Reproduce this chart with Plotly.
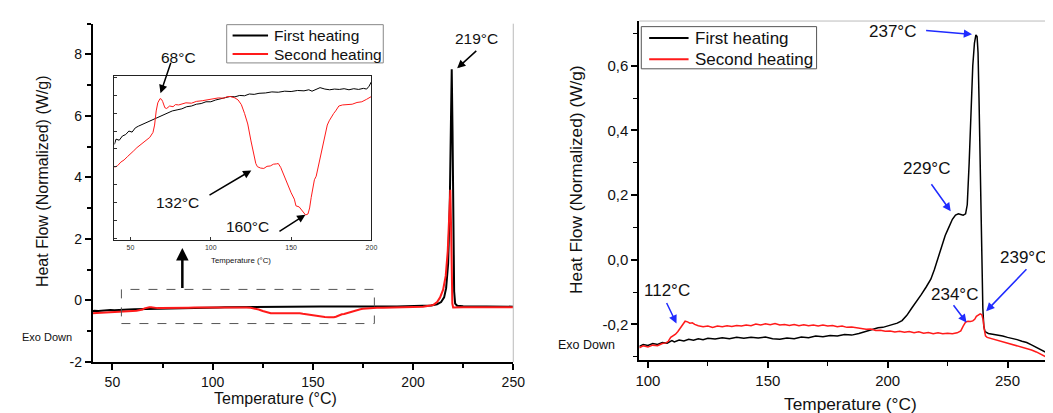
import plotly.graph_objects as go

# ---------------- data: left panel (DSC, first/second heating) ----------------
FIRST_L_T = [40, 41, 43, 45, 47, 49, 51, 53, 55, 58, 61, 64, 67, 70, 73, 76, 79, 82, 85, 88, 91, 94, 97,
             100, 103, 106, 109, 112, 115, 118, 121, 124, 127, 130, 134, 138, 142, 146, 150, 154, 158, 161,
             163, 166, 168, 171, 174, 177, 180, 183, 186, 189, 192, 195, 197, 198.5, 200,
             205, 209, 212, 214, 215.5, 216.5, 217.5, 218.3, 218.9, 219.3, 219.7, 220.1, 220.5, 221, 222,
             225, 235, 250]
FIRST_L_HF = [-0.350, -0.335, -0.338, -0.326, -0.322, -0.312, -0.315, -0.303, -0.298, -0.292, -0.284, -0.278,
              -0.274, -0.266, -0.262, -0.255, -0.252, -0.249, -0.243, -0.241, -0.236, -0.234, -0.229,
              -0.229, -0.224, -0.221, -0.218, -0.214, -0.215, -0.211, -0.212, -0.207, -0.208, -0.205, -0.204,
              -0.201, -0.202, -0.199, -0.200, -0.197, -0.198, -0.195,
              -0.199, -0.192, -0.189, -0.193, -0.195, -0.193, -0.194, -0.192, -0.195, -0.192, -0.194, -0.191,
              -0.193, -0.185, -0.172,
              -0.170, -0.160, -0.120, -0.050, 0.10, 0.40, 1.20, 3.00, 5.80, 7.52, 5.5, 2.0, 0.3, -0.10, -0.17,
              -0.19, -0.20, -0.20]

SECOND_L_T = [40, 42, 44, 46, 48, 50, 52, 54, 56, 58, 60, 62, 64, 65, 66, 67, 68.4, 69.3, 70, 71.4, 72.5,
              74.4, 76.5, 78, 80, 84.5, 88, 91, 94.7, 98, 101, 104.8, 108, 110, 112, 113.5, 115, 117, 119,
              121, 123, 125, 127, 128, 129, 131, 133, 135, 137, 139, 141, 142, 143.5, 145, 147, 150, 152,
              153, 155, 156, 158, 159, 160.5, 161.5, 162.5, 163.5, 164.5, 165.6, 167, 168.5, 169.6, 171,
              172.5, 173.7, 175, 176.5, 177.7, 179.7, 182, 185, 188, 191, 194, 197, 200,
              205, 208, 210, 212, 213.5, 215, 216.3, 217.3, 218, 218.6, 219, 219.3, 219.6, 220, 225, 250]
SECOND_L_HF = [-0.415, -0.410, -0.400, -0.394, -0.385, -0.375, -0.368, -0.359, -0.352, -0.346, -0.339, -0.330,
               -0.316, -0.295, -0.255, -0.232, -0.220, -0.222, -0.228, -0.246, -0.248,
               -0.241, -0.243, -0.237, -0.238, -0.232, -0.233, -0.228, -0.226, -0.224, -0.222, -0.218, -0.219,
               -0.215, -0.214, -0.216, -0.218, -0.224, -0.237,
               -0.262, -0.292, -0.340, -0.385, -0.404, -0.413, -0.417, -0.418, -0.412, -0.411, -0.406, -0.405,
               -0.404, -0.415, -0.432, -0.452, -0.487, -0.505,
               -0.524, -0.527, -0.533, -0.545, -0.550, -0.547, -0.530, -0.500, -0.470, -0.450, -0.440, -0.410,
               -0.375, -0.348, -0.320,
               -0.295, -0.283, -0.272, -0.262, -0.255, -0.241, -0.238, -0.237, -0.236, -0.231, -0.229, -0.222,
               -0.214,
               -0.205, -0.185, -0.150, -0.05, 0.10, 0.35, 0.80, 1.60, 2.60, 3.60, 2.3, 0.8, -0.10, -0.23,
               -0.22, -0.22]

# ---------------- data: right panel ----------------
FIRST_R_T = [96.4, 98, 100, 102, 104, 106, 108, 110, 111, 113, 115, 117, 119, 121, 123, 125, 128, 131, 134,
             137, 140, 143, 146, 149, 152, 155, 158, 161, 164, 167, 170, 173, 176, 179, 182, 185, 188, 190,
             192, 194, 196, 198, 200, 202, 204, 206, 208, 210, 212, 214, 216, 218, 219.5, 221, 222.5, 224,
             225.5, 227, 228.3, 229.5, 230.5, 231.5, 232.5, 233.2, 234, 234.8, 235.5, 236.2, 236.8, 237.3,
             237.7, 238.1, 238.5, 238.9, 239.3, 239.7, 240.1, 240.6, 242, 244, 246, 248, 250, 252, 254, 256,
             258, 260, 262, 264, 266, 267.5]
FIRST_R_HF = [-0.268, -0.262, -0.265, -0.259, -0.262, -0.256, -0.258, -0.250, -0.254, -0.248, -0.251, -0.246,
              -0.249, -0.244, -0.247, -0.243, -0.245, -0.241, -0.244, -0.240, -0.243, -0.240, -0.242, -0.239,
              -0.244, -0.246, -0.242, -0.244, -0.239, -0.241, -0.236, -0.238, -0.234, -0.236, -0.231, -0.233,
              -0.228, -0.224, -0.219, -0.216, -0.210, -0.209, -0.205, -0.202, -0.196, -0.188, -0.172, -0.150,
              -0.130, -0.108, -0.085, -0.060, -0.030, 0.005, 0.040, 0.075, 0.100, 0.125, 0.138, 0.142, 0.140,
              0.138, 0.142, 0.170, 0.300, 0.480, 0.600, 0.670, 0.695, 0.690, 0.640, 0.500, 0.330, 0.150,
              -0.020, -0.150, -0.205, -0.222, -0.228, -0.230, -0.234, -0.236, -0.240, -0.243, -0.247, -0.252,
              -0.256, -0.263, -0.270, -0.278, -0.286, -0.292]

SECOND_R_T = [96.4, 98, 100, 102, 104, 106, 107.5, 108.5, 109.5, 110.5, 111.5, 112.5, 113.5, 114.5, 115.5,
              116.5, 117.5, 118.5, 119.5, 121, 123, 125, 127, 129, 131, 133, 135, 137, 139, 141, 143, 145,
              147, 149, 151, 153, 155, 157, 159, 161, 163, 165, 167, 169, 171, 173, 175, 177, 179, 181, 183,
              185, 187, 189, 191, 193, 195, 197, 199, 201, 203, 205, 207, 209, 211, 213, 215, 217, 219, 221,
              223, 225, 227, 229, 230.5, 231.5, 232.5, 233.5, 234.5, 235.5, 236.3, 237, 237.8, 238.6, 239.3,
              239.8, 240.3, 240.8, 241.5, 243, 244.5, 246, 248, 250, 252, 254, 256, 258, 260, 262, 264, 266,
              267.5]
SECOND_R_HF = [-0.272, -0.266, -0.270, -0.264, -0.266, -0.259, -0.257, -0.252, -0.240, -0.236, -0.230, -0.222,
               -0.212, -0.200, -0.190, -0.192, -0.196, -0.195, -0.200, -0.204, -0.207, -0.205, -0.209, -0.205,
               -0.207, -0.204, -0.206, -0.203, -0.205, -0.202, -0.204, -0.199, -0.202, -0.198, -0.201, -0.197,
               -0.202, -0.200, -0.203, -0.200, -0.204, -0.201, -0.204, -0.202, -0.205, -0.202, -0.205, -0.203,
               -0.207, -0.205, -0.209, -0.208, -0.211, -0.212, -0.215, -0.214, -0.219, -0.218, -0.221, -0.220,
               -0.223, -0.221, -0.224, -0.222, -0.226, -0.223, -0.227, -0.225, -0.229, -0.226, -0.229, -0.227,
               -0.229, -0.226, -0.220, -0.205, -0.193, -0.190, -0.191, -0.189, -0.184, -0.175, -0.170, -0.167,
               -0.170, -0.185, -0.215, -0.235, -0.240, -0.243, -0.248, -0.250, -0.254, -0.258, -0.261, -0.265,
               -0.269, -0.273, -0.279, -0.285, -0.292, -0.300, -0.306]

SERIES_NAMES = ["First heating", "Second heating"]
INSET_MAX_T = 200

FONT = "Arial, Liberation Sans, sans-serif"
BLACK = "#000000"
RED = "#ff1a1a"
BLUE = "#1f2bff"
SERIES_COLORS = [BLACK, RED]

fig = go.Figure()

# left main
fig.add_trace(go.Scatter(x=FIRST_L_T, y=FIRST_L_HF, mode="lines", name=SERIES_NAMES[0], showlegend=False,
                         line=dict(color=BLACK, width=2), xaxis="x", yaxis="y"))
fig.add_trace(go.Scatter(x=SECOND_L_T, y=SECOND_L_HF, mode="lines", name=SERIES_NAMES[1], showlegend=False,
                         line=dict(color=RED, width=2), xaxis="x", yaxis="y"))

# inset (same data, restricted range)
fi = [(t, v) for t, v in zip(FIRST_L_T, FIRST_L_HF) if t <= INSET_MAX_T]
si = [(t, v) for t, v in zip(SECOND_L_T, SECOND_L_HF) if t <= INSET_MAX_T]
fig.add_trace(go.Scatter(x=[p[0] for p in fi], y=[p[1] for p in fi], mode="lines", showlegend=False,
                         name=SERIES_NAMES[0], line=dict(color=BLACK, width=1), xaxis="x2", yaxis="y2"))
fig.add_trace(go.Scatter(x=[p[0] for p in si], y=[p[1] for p in si], mode="lines", showlegend=False,
                         name=SERIES_NAMES[1], line=dict(color=RED, width=1), xaxis="x2", yaxis="y2"))

# right
fig.add_trace(go.Scatter(x=FIRST_R_T, y=FIRST_R_HF, mode="lines", name=SERIES_NAMES[0], showlegend=False,
                         line=dict(color=BLACK, width=1.5), xaxis="x3", yaxis="y3"))
fig.add_trace(go.Scatter(x=SECOND_R_T, y=SECOND_R_HF, mode="lines", name=SERIES_NAMES[1], showlegend=False,
                         line=dict(color=RED, width=1.5), xaxis="x3", yaxis="y3"))

W, H = 1053, 413


def px_x(p):
    return p / W


def px_y(p):
    return (H - p) / H


axis_common = dict(showgrid=False, zeroline=False, showline=True, linecolor=BLACK,
                   ticks="outside", tickcolor=BLACK, tickfont=dict(family=FONT, size=14, color="#111"))

L_X0, L_X1, L_Y0, L_Y1 = px_x(82), px_x(509), px_y(361), px_y(16)
I_X0, I_X1, I_Y0, I_Y1 = px_x(104), px_x(365), px_y(237), px_y(69)
R_X0, R_X1, R_Y0, R_Y1 = px_x(637), 1.0, px_y(359.3), px_y(13.3)

fig.update_layout(
    width=W, height=H, autosize=False,
    margin=dict(l=0, r=0, t=0, b=0),
    paper_bgcolor="white", plot_bgcolor="white",
    font=dict(family=FONT, color="#111"),
    showlegend=False,
    xaxis=dict(**axis_common, domain=[L_X0, L_X1], range=[40.2, 250], anchor="y",
               linewidth=2, tickwidth=2, ticklen=6, tick0=0, dtick=50,
               minor=dict(ticks="outside", dtick=25, tick0=0, ticklen=4, tickwidth=1.5, tickcolor=BLACK)),
    yaxis=dict(**axis_common, domain=[L_Y0, L_Y1], range=[-2, 9], anchor="x",
               linewidth=2, tickwidth=2, ticklen=6,
               tickvals=[-2, 0, 2, 4, 6, 8], ticktext=["-2", "0", "2", "4", "6", "8"],
               minor=dict(ticks="outside", tickvals=[-1, 1, 3, 5, 7, 9], ticklen=4, tickwidth=1.5,
                          tickcolor=BLACK)),
    xaxis2=dict(showgrid=False, zeroline=False, showline=True, mirror=True, linecolor="#222", linewidth=1,
                domain=[I_X0, I_X1], range=[40, 200], anchor="y2", ticks="inside", ticklen=3,
                tickcolor="#333", tickvals=[50, 100, 150, 200],
                tickfont=dict(family=FONT, size=7, color="#333")),
    yaxis2=dict(showgrid=False, zeroline=False, showline=True, mirror=True, linecolor="#222", linewidth=1,
                domain=[I_Y0, I_Y1], range=[-0.622, -0.155], anchor="x2", ticks="inside", ticklen=3,
                tickcolor="#333", tick0=-0.16, dtick=0.0507, showticklabels=False),
    xaxis3=dict(**axis_common, domain=[R_X0, R_X1], range=[96.4, 267.3], anchor="y3",
                linewidth=2, tickwidth=1.5, ticklen=6, tick0=0, dtick=50,
                minor=dict(ticks="outside", dtick=25, tick0=0, ticklen=4, tickwidth=1.2, tickcolor=BLACK)),
    yaxis3=dict(**axis_common, domain=[R_Y0, R_Y1], range=[-0.311, 0.738], anchor="x3",
                linewidth=2, tickwidth=1.5, ticklen=6,
                tickvals=[-0.2, 0.0, 0.2, 0.4, 0.6], ticktext=["-0,2", "0,0", "0,2", "0,4", "0,6"],
                minor=dict(ticks="outside", tickvals=[-0.3, -0.1, 0.1, 0.3, 0.5, 0.7], ticklen=4,
                           tickwidth=1.2, tickcolor=BLACK)),
)
fig.update_layout(xaxis3_tickfont_size=15, yaxis3_tickfont_size=15)

shapes = [
    # dashed selection box
    dict(type="rect", xref="x", yref="y", x0=54.5, x1=180.7, y0=-0.75, y1=0.36,
         line=dict(color="#555", width=1, dash="dash"), layer="above"),
    # faint frame lines
    dict(type="line", xref="paper", yref="paper", x0=L_X1, x1=L_X1, y0=L_Y0, y1=L_Y1,
         line=dict(color="#bbbbbb", width=1)),
    dict(type="line", xref="paper", yref="paper", x0=R_X0, x1=R_X1, y0=R_Y1, y1=R_Y1,
         line=dict(color="#bbbbbb", width=1)),
]

ann = []


def text(x, y, s, size, xref="paper", yref="paper", angle=0, xanchor="center"):
    ann.append(dict(x=x, y=y, xref=xref, yref=yref, text=s, showarrow=False, textangle=angle,
                    xanchor=xanchor, yanchor="middle", font=dict(family=FONT, size=size, color="#111")))


def arrow(tx, ty, hx, hy, xr, yr, color, width=1.5, size=1.1):
    ann.append(dict(x=hx, y=hy, ax=tx, ay=ty, xref=xr, yref=yr, axref=xr, ayref=yr, text="",
                    showarrow=True, arrowhead=2, arrowsize=size, arrowwidth=width, arrowcolor=color,
                    standoff=0, startstandoff=0))


def legend_box(box, line_x, rows_y, text_x, size, border):
    # box = (left, top, right, bottom) in pixels
    shapes.append(dict(type="rect", xref="paper", yref="paper", x0=px_x(box[0]), x1=px_x(box[2]),
                       y0=px_y(box[3]), y1=px_y(box[1]), fillcolor="white",
                       line=dict(color=border, width=1), layer="above"))
    for name, color, ry in zip(SERIES_NAMES, SERIES_COLORS, rows_y):
        shapes.append(dict(type="line", xref="paper", yref="paper", x0=px_x(line_x[0]), x1=px_x(line_x[1]),
                           y0=px_y(ry), y1=px_y(ry), line=dict(color=color, width=2), layer="above"))
        text(px_x(text_x), px_y(ry), name, size, xanchor="left")


legend_box((218, 17, 377, 56), (224, 260), (28, 47), 264, 15.5, "#888")
legend_box((639, 19, 817, 62), (647, 687), (30.7, 52.3), 691, 17, "#555")

# axis titles
text(px_x(31), px_y(177), "Heat Flow (Normalized) (W/g)", 16, angle=-90)
text(px_x(268), px_y(398), "Temperature (°C)", 16)
text(px_x(572), px_y(175), "Heat Flow (Normalized) (W/g)", 17.3, angle=-90)
text(px_x(851), px_y(404), "Temperature (°C)", 17.3)
text(px_x(233), px_y(257), "Temperature (°C)", 7.8)
text(px_x(36), px_y(336), "Exo Down", 11)
text(px_x(583), px_y(344), "Exo Down", 12.5)

# left annotations
text(231.8, 8.51, "219°C", 15.5, "x", "y")
arrow(232.3, 8.16, 222.0, 7.55, "x", "y", BLACK)
text(83.0, 7.9, "68°C", 15.5, "x", "y")
arrow(79.4, 7.78, 74.0, 6.74, "x", "y", BLACK)
text(82.5, 3.18, "132°C", 15.5, "x", "y")
arrow(97.7, 3.40, 119.3, 4.23, "x", "y", BLACK)
text(117.4, 2.41, "160°C", 15.5, "x", "y")
arrow(132.6, 2.22, 146.3, 2.79, "x", "y", BLACK)
arrow(84.9, 0.36, 84.9, 1.71, "x", "y", BLACK, width=2.5, size=1.0)

# right annotations
text(201.9, 0.707, "237°C", 17, "x3", "y3")
arrow(215.4, 0.709, 235.2, 0.697, "x3", "y3", BLUE)
text(216.3, 0.283, "229°C", 17, "x3", "y3")
arrow(217.8, 0.238, 226.3, 0.150, "x3", "y3", BLUE)
text(107.8, -0.096, "112°C", 17, "x3", "y3")
arrow(107.5, -0.129, 111.9, -0.197, "x3", "y3", BLUE)
text(228.0, -0.106, "234°C", 17, "x3", "y3")
arrow(227.0, -0.136, 232.9, -0.194, "x3", "y3", BLUE)
ann.append(dict(x=1.0, y=0.007, xref="paper", yref="y3", text="239°C", showarrow=False,
                xanchor="right", yanchor="middle", font=dict(family=FONT, size=17, color="#111")))
arrow(258.5, -0.025, 241.1, -0.159, "x3", "y3", BLUE)

fig.update_layout(shapes=shapes, annotations=ann)

fig.write_html("out.html")
